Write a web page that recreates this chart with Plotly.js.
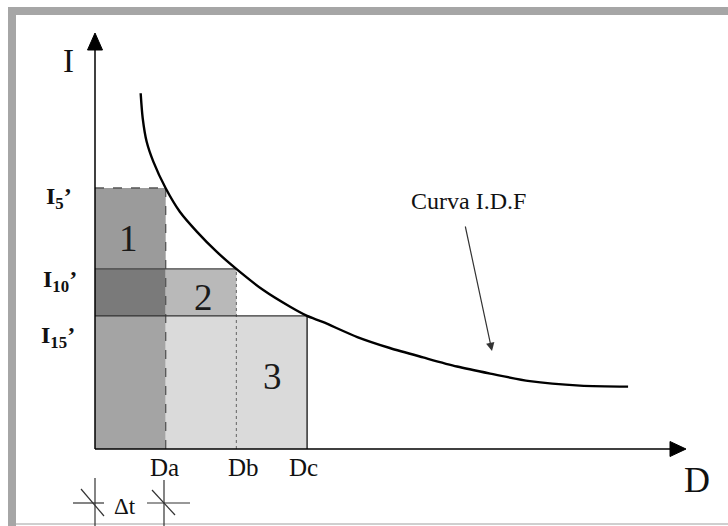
<!DOCTYPE html>
<html>
<head>
<meta charset="utf-8">
<script src="https://cdn.plot.ly/plotly-3.0.1.min.js"></script>
<style>html,body{margin:0;padding:0;background:#fff;}#chart{width:728px;height:526px;}</style>
</head>
<body>
<div id="chart"></div>
<script>
// ---- data ----
const Da = 10, Db = 20, Dc = 30;
const I5 = 100, I10 = 69, I15 = 51;
const durationLabels = ['Da', 'Db', 'Dc'];
const intensityLabels = ['I<sub>5</sub>’', 'I<sub>10</sub>’', 'I<sub>15</sub>’'];
const curveD = [6.46, 6.75, 7.31, 8.25, 10.0, 12.0, 14.4, 17.2, 19.9, 23.8, 27.6, 30.0, 32.2, 37.1, 41.7, 46.4, 51.2, 55.9, 61.5, 68.6, 75.4];
const curveI = [136.3, 126.7, 117.7, 110.1, 99.9, 90.9, 83.3, 75.6, 69.2, 60.9, 54.5, 51.0, 48.7, 42.9, 38.7, 35.1, 31.6, 28.9, 26.0, 24.3, 23.9];

// ---- layout geometry ----
const W = 728, H = 526;
const M = {l: 95, r: 28, t: 20, b: 77};
const PW = W - M.l - M.r, PH = H - M.t - M.b;
const XMAX = PW / 7.07, YMAX = PH / 2.61;
const px = x => (x - M.l) / PW;
const py = y => (H - M.b - y) / PH;
const SERIF = 'Liberation Serif, Times New Roman, serif';

function rect(x0, x1, y0, y1, color) {
  return {x: [x0, x1, x1, x0, x0], y: [y0, y0, y1, y1, y0], mode: 'lines', fill: 'toself',
    fillcolor: color, line: {width: 0}, hoverinfo: 'skip', showlegend: false};
}
function seg(xs, ys, color, dash, width) {
  return {x: xs, y: ys, mode: 'lines', line: {color: color, dash: dash, width: width},
    hoverinfo: 'skip', showlegend: false};
}

const traces = [
  rect(0, Da, I10, I5, '#9b9b9b'),
  rect(0, Da, I15, I10, '#7a7a7a'),
  rect(0, Da, 0, I15, '#a4a4a4'),
  rect(Da, Db, I15, I10, '#b9b9b9'),
  rect(Da, Dc, 0, I15, '#dadada'),
  seg([0, Da], [I5, I5], '#555', 'dash', 1.5),
  seg([Da, Da], [0, I5], '#555', 'dash', 1.3),
  seg([0, Db], [I10, I10], '#444', 'solid', 1.3),
  seg([Db, Db], [0, I10], '#777', 'dot', 1.2),
  seg([0, Dc], [I15, I15], '#333', 'solid', 1.3),
  seg([Dc, Dc], [0, I15], '#222', 'solid', 1.4),
  {x: curveD, y: curveI, mode: 'lines', line: {color: '#000', width: 2.4, shape: 'spline', smoothing: 0.8},
   hoverinfo: 'skip', showlegend: false}
];

function pline(x0, y0, x1, y1, color, width) {
  return {type: 'line', xref: 'paper', yref: 'paper', x0: px(x0), y0: py(y0), x1: px(x1), y1: py(y1),
    line: {color: color, width: width}, layer: 'above'};
}
function pbox(x0, y0, x1, y1, color) {
  return {type: 'rect', xref: 'paper', yref: 'paper', x0: px(x0), y0: py(y0), x1: px(x1), y1: py(y1),
    fillcolor: color, line: {width: 0}, layer: 'above'};
}
function tri(pts, color) {
  const d = 'M' + pts.map(p => px(p[0]) + ',' + py(p[1])).join(' L') + ' Z';
  return {type: 'path', xref: 'paper', yref: 'paper', path: d, fillcolor: color, line: {color: color, width: 1}, layer: 'above'};
}

const shapes = [
  // frame
  pbox(8, 7, 728, 15, '#a6a6a6'),
  pbox(8, 7, 16, 526, '#a6a6a6'),
  pline(16, 524, 728, 524, '#cfcfcf', 2),
  // axes
  pline(95, 449, 95, 48, '#000', 1.5),
  tri([[95, 33], [87.5, 50], [102.5, 50]], '#000'),
  pline(95, 449, 672, 449, '#000', 1.5),
  tri([[686, 449], [670, 441.5], [670, 456.5]], '#000'),
  // Δt marks
  pline(95, 478, 95, 526, '#333', 1.2),
  pline(73, 503, 104, 503, '#333', 1.2),
  pline(81, 489, 104, 516, '#333', 1.2),
  pline(164, 480, 164, 526, '#333', 1.2),
  pline(147, 503, 190, 503, '#333', 1.2),
  pline(152, 490, 175, 515, '#333', 1.2)
];

function ptext(text, x, y, size, color) {
  return {text: text, xref: 'paper', yref: 'paper', x: px(x), y: py(y),
    xanchor: 'center', yanchor: 'middle', showarrow: false,
    font: {family: SERIF, size: size, color: color || '#111'}};
}
function dlabel(i, xval, xs) {
  return {text: durationLabels[i], x: xval, y: 0, xref: 'x', yref: 'y', xanchor: 'center', yanchor: 'middle',
    yshift: -18, xshift: xs, showarrow: false, font: {family: SERIF, size: 25, color: '#111'}};
}
function ilabel(i, yval, xs, ys) {
  return {text: '<b>' + intensityLabels[i] + '</b>', x: 0, y: yval, xref: 'x', yref: 'y', xanchor: 'center',
    yanchor: 'middle', xshift: xs, yshift: ys, showarrow: false, font: {family: SERIF, size: 24, color: '#111'}};
}

const annotations = [
  ptext('I', 68, 61, 33),
  ptext('D', 697, 480, 36),
  ptext('Curva I.D.F', 468, 201, 24),
  ptext('1', 128, 238, 37, '#1a1a1a'),
  ptext('2', 203, 297, 37, '#1a1a1a'),
  ptext('3', 272, 376, 37, '#1a1a1a'),
  ptext('Δt', 125, 506, 23),
  dlabel(0, Da, -1),
  dlabel(1, Db, 7),
  dlabel(2, Dc, -4),
  ilabel(0, I5, -36, -10),
  ilabel(1, I10, -35, -12),
  ilabel(2, I15, -37, -21),
  // arrow pointing to the curve
  {text: '', xref: 'paper', yref: 'paper', x: px(492), y: py(351), ax: -27, ay: -126,
   showarrow: true, arrowhead: 2, arrowsize: 1.4, arrowwidth: 1.2, arrowcolor: '#333'}
];

const layout = {
  width: W, height: H, margin: M,
  paper_bgcolor: '#fff', plot_bgcolor: '#fff',
  showlegend: false,
  xaxis: {range: [0, XMAX], showgrid: false, zeroline: false, showline: false, showticklabels: false, ticks: '', fixedrange: true},
  yaxis: {range: [0, YMAX], showgrid: false, zeroline: false, showline: false, showticklabels: false, ticks: '', fixedrange: true},
  shapes: shapes,
  annotations: annotations
};

Plotly.newPlot('chart', traces, layout, {displayModeBar: false, staticPlot: true});
</script>
</body>
</html>
